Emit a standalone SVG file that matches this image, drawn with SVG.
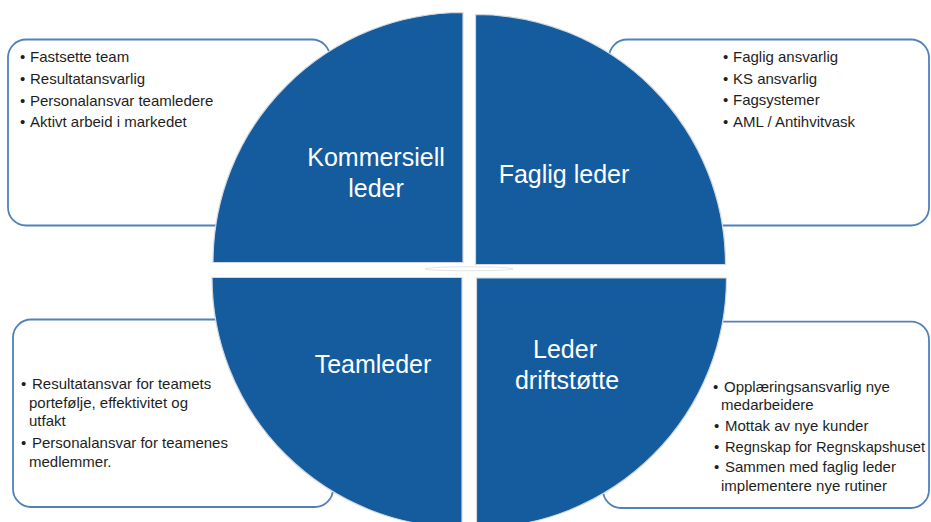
<svg xmlns="http://www.w3.org/2000/svg" width="931" height="522" viewBox="0 0 931 522">
  <style>
    .box { fill: #ffffff; stroke: #4f81bd; stroke-width: 1.8; }
    .quad { fill: #145c9e; stroke: #d4d9e0; stroke-width: 1.2; }
    .lbl { font-family: "Liberation Sans", Arial, sans-serif; font-size: 25px; fill: #ffffff; text-anchor: middle; }
    .txt { font-family: "Liberation Sans", Arial, sans-serif; font-size: 15px; fill: #1e1e1e; }
  </style>
  <rect x="0" y="0" width="931" height="522" fill="#ffffff"/>

  <g id="box-kommersiell">
    <rect class="box" x="8" y="39.5" width="322" height="186" rx="18" ry="18"/>
    <text class="txt" x="20" y="62.3">•</text><text class="txt" x="30" y="62.3">Fastsette team</text>
    <text class="txt" x="20" y="84">•</text><text class="txt" x="30" y="84">Resultatansvarlig</text>
    <text class="txt" x="20" y="105.5">•</text><text class="txt" x="30" y="105.5">Personalansvar teamledere</text>
    <text class="txt" x="20" y="127">•</text><text class="txt" x="30" y="127">Aktivt arbeid i markedet</text>
  </g>

  <g id="box-faglig">
    <rect class="box" x="609" y="39.5" width="320" height="186" rx="18" ry="18"/>
    <text class="txt" x="723" y="61.7">•</text><text class="txt" x="733" y="61.7">Faglig ansvarlig</text>
    <text class="txt" x="723" y="84">•</text><text class="txt" x="733" y="84">KS ansvarlig</text>
    <text class="txt" x="723" y="105.3">•</text><text class="txt" x="733" y="105.3">Fagsystemer</text>
    <text class="txt" x="723" y="126.7">•</text><text class="txt" x="733" y="126.7">AML / Antihvitvask</text>
  </g>

  <g id="box-teamleder">
    <rect class="box" x="13" y="319.5" width="320" height="187.5" rx="18" ry="18"/>
    <text class="txt" x="21" y="389">•</text><text class="txt" x="32" y="389">Resultatansvar for teamets</text>
    <text class="txt" x="29" y="407.7">portefølje, effektivitet og</text>
    <text class="txt" x="29" y="426.3">utfakt</text>
    <text class="txt" x="21" y="447.7">•</text><text class="txt" x="32" y="447.7">Personalansvar for teamenes</text>
    <text class="txt" x="29" y="466.5">medlemmer.</text>
  </g>

  <g id="box-driftstotte">
    <rect class="box" x="603" y="321.7" width="326" height="186.3" rx="18" ry="18"/>
    <text class="txt" x="713" y="391.7">•</text><text class="txt" x="724" y="391.7">Opplæringsansvarlig nye</text>
    <text class="txt" x="721" y="409.5">medarbeidere</text>
    <text class="txt" x="714" y="430.7">•</text><text class="txt" x="725" y="430.7">Mottak av nye kunder</text>
    <text class="txt" x="714" y="451.7">•</text><text class="txt" x="725" y="451.7" textLength="200" lengthAdjust="spacingAndGlyphs">Regnskap for Regnskapshuset</text>
    <text class="txt" x="714" y="472">•</text><text class="txt" x="725" y="472">Sammen med faglig leder</text>
    <text class="txt" x="721" y="491">implementere nye rutiner</text>
  </g>

  <g id="node-kommersiell">
    <path class="quad" d="M463,262.5 L213,262.5 A250,250 0 0 1 463,12.5 Z"/>
    <text class="lbl" x="376" y="166">Kommersiell</text>
    <text class="lbl" x="376" y="196.5">leder</text>
  </g>

  <g id="node-faglig">
    <path class="quad" d="M475.5,264.5 L475.5,14.5 A250,250 0 0 1 725.5,264.5 Z"/>
    <text class="lbl" x="564" y="183.3">Faglig leder</text>
  </g>

  <g id="node-teamleder">
    <path class="quad" d="M462,277.5 L462,527.5 A250,250 0 0 1 212,277.5 Z"/>
    <text class="lbl" x="373" y="373.3">Teamleder</text>
  </g>

  <g id="node-driftstotte">
    <path class="quad" d="M476.5,278 L726.5,278 A250,250 0 0 1 476.5,528 Z"/>
    <text class="lbl" x="565" y="358.3">Leder</text>
    <text class="lbl" x="567" y="389">driftstøtte</text>
  </g>

  <ellipse cx="469" cy="268.8" rx="44" ry="2" fill="#ffffff" stroke="#dcdcdc" stroke-width="0.8"/>

  <g id="connectors"/>
</svg>
